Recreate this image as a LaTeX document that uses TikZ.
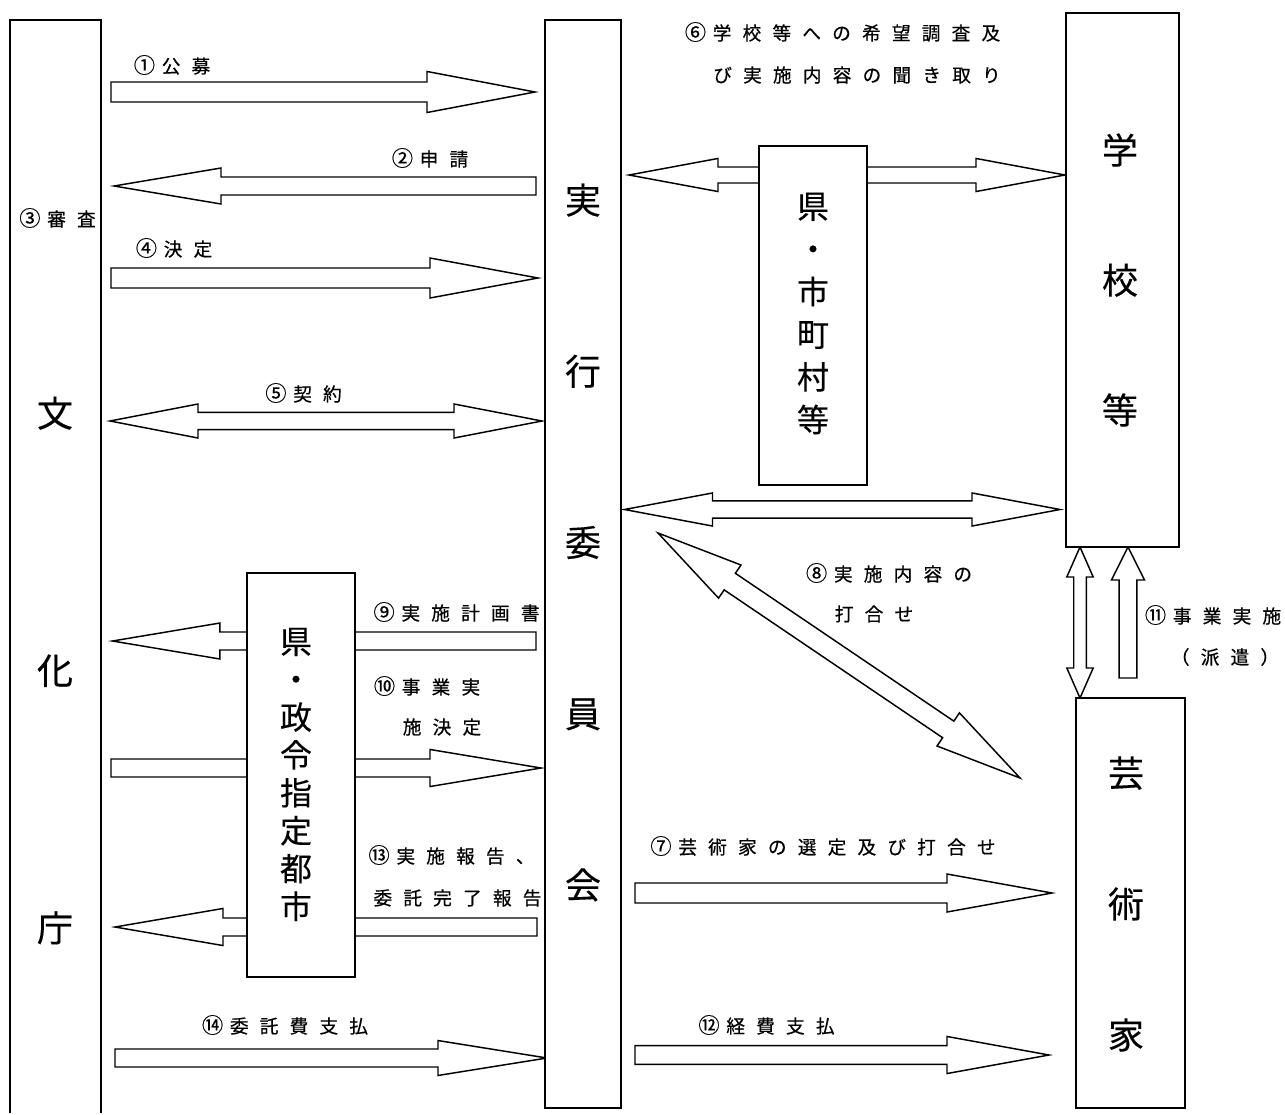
\documentclass[tikz,border=0pt]{standalone}
\usepackage{fontspec}
\usetikzlibrary{calc}
\newfontfamily\jp[FakeBold=0.3]{Noto Sans CJK JP}
\newfontfamily\jplbl[LetterSpace=60,FakeBold=0.5]{Noto Sans CJK JP}
\newcommand\cn[1]{{\fontsize{16}{18}\selectfont #1}\hspace{5pt}}
\pgfdeclarelayer{bg}
\pgfdeclarelayer{paper}
\pgfsetlayers{paper,bg,main}
\tikzset{
  blk/.style={draw=black, fill=white, line width=1.1pt, line join=miter},
  box/.style={draw=black, fill=white, line width=1.2pt, inner sep=0pt},
  bigtxt/.style={font=\jp\fontsize{27}{#1}\selectfont, align=center, inner sep=0pt},
  midtxt/.style={font=\jp\fontsize{24}{#1}\selectfont, align=center, inner sep=0pt},
  lbl/.style={font=\jplbl\fontsize{14}{18}\selectfont, inner sep=0pt}
}
% single block arrow: tail, tip, body half, head half, head length
\newcommand\SArrow[5]{%
  \coordinate (hbx) at ($(#2)!#5!(#1)$);
  \draw[blk] ($(#1)!#3!90:(#2)$) -- ($(hbx)!#3!90:(#2)$) -- ($(hbx)!#4!90:(#2)$) -- (#2)
    -- ($(hbx)!#4!-90:(#2)$) -- ($(hbx)!#3!-90:(#2)$) -- ($(#1)!#3!-90:(#2)$) -- cycle;
}
% double block arrow: end A, end B, body half, head half, head length
\newcommand\DArrow[5]{%
  \coordinate (hba) at ($(#1)!#5!(#2)$);
  \coordinate (hbb) at ($(#2)!#5!(#1)$);
  \draw[blk] (#1) -- ($(hba)!#4!90:(#2)$) -- ($(hba)!#3!90:(#2)$) -- ($(hbb)!#3!90:(#2)$)
    -- ($(hbb)!#4!90:(#2)$) -- (#2) -- ($(hbb)!#4!-90:(#2)$) -- ($(hbb)!#3!-90:(#2)$)
    -- ($(hba)!#3!-90:(#2)$) -- ($(hba)!#4!-90:(#2)$) -- cycle;
}
\begin{document}
\begin{tikzpicture}[x=0.75pt, y=-0.75pt]
\begin{pgfonlayer}{paper}
\useasboundingbox[fill=white] (0,0) rectangle (1285,1113);
\end{pgfonlayer}

% ---- boxes ----
\node[inner sep=0pt, minimum width={90*0.75pt}, minimum height={1093*0.75pt}] (bunka) at (55.5,566.5) {};
\draw[line width=1.2pt] (bunka.south west) -- (bunka.north west) -- (bunka.north east) -- (bunka.south east);
\node[box, minimum width={76*0.75pt}, minimum height={1088*0.75pt}] (jikko) at (583,564) {};
\node[box, minimum width={108*0.75pt}, minimum height={339*0.75pt}] (kenshi) at (813,315.5) {};
\node[box, minimum width={113*0.75pt}, minimum height={534*0.75pt}] (gakko) at (1122.5,280) {};
\node[box, minimum width={109*0.75pt}, minimum height={410*0.75pt}] (geijutsu) at (1130.5,903) {};
\node[box, minimum width={108*0.75pt}, minimum height={404*0.75pt}] (kensei) at (301,775) {};

% ---- box texts ----
\node[bigtxt=193pt] (tbunka) at (55,670.5) {文\\化\\庁};
\node[bigtxt=128.4pt] (tjikko) at (583,542.5) {実\\行\\委\\員\\会};
\node[midtxt=32pt] (tkenshi) at (813,313.5) {県\\・\\市\\町\\村\\等};
\node[bigtxt=97.5pt] (tgakko) at (1120,280) {学\\校\\等};
\node[bigtxt=98.25pt] (tgei) at (1126,904) {芸\\術\\家};
\node[midtxt=28.4pt] (tkensei) at (296,774.5) {県\\・\\政\\令\\指\\定\\都\\市};

% ---- arrow end points ----
\coordinate (a1s) at (111,92);    \coordinate (a1e) at (535,92);
\coordinate (a2s) at (536,186);   \coordinate (a2e) at (114,186);
\coordinate (a4s) at (111,278);   \coordinate (a4e) at (538,278);
\coordinate (a5s) at (110,421);   \coordinate (a5e) at (542,421);
\coordinate (a6s) at (629,175);   \coordinate (a6e) at (1065,175);
\coordinate (ags) at (624.5,509.5); \coordinate (age) at (1060,509.5);
\coordinate (a8s) at (658,533);   \coordinate (a8e) at (1020,778);
\coordinate (a9s) at (536,641);   \coordinate (a9e) at (112.5,641);
\coordinate (a10s) at (111,768);  \coordinate (a10e) at (541,768);
\coordinate (a13s) at (537,927);  \coordinate (a13e) at (115,927);
\coordinate (a7s) at (635,893);   \coordinate (a7e) at (1052,893);
\coordinate (a14s) at (115,1058); \coordinate (a14e) at (547,1058);
\coordinate (a12s) at (635,1055); \coordinate (a12e) at (1049,1055);
\coordinate (vds) at (1080,547);  \coordinate (vde) at (1080,698);
\coordinate (vss) at (1128,678);  \coordinate (vse) at (1128,547);

\begin{pgfonlayer}{bg}
\SArrow{a1s}{a1e}{7.5pt}{15.4pt}{81pt}
\SArrow{a2s}{a2e}{6.75pt}{13.5pt}{80.25pt}
\SArrow{a4s}{a4e}{7.5pt}{15pt}{81pt}
\DArrow{a5s}{a5e}{6.4pt}{12.75pt}{66pt}
\DArrow{a6s}{a6e}{6pt}{12.4pt}{66.75pt}
\DArrow{ags}{age}{6.4pt}{12.4pt}{66pt}
\DArrow{a8s}{a8e}{7.5pt}{15pt}{65pt}
\SArrow{a9s}{a9e}{6.75pt}{13.5pt}{80.6pt}
\SArrow{a10s}{a10e}{6.75pt}{13.9pt}{83.25pt}
\SArrow{a13s}{a13e}{6.75pt}{13.9pt}{81pt}
\SArrow{a7s}{a7e}{7.5pt}{14.25pt}{78.75pt}
\SArrow{a14s}{a14e}{6.75pt}{13.1pt}{81.75pt}
\SArrow{a12s}{a12e}{7.1pt}{13.9pt}{76.5pt}
\DArrow{vds}{vde}{4.7pt}{9.9pt}{22.5pt}
\SArrow{vss}{vse}{6.6pt}{12.4pt}{24.75pt}
\end{pgfonlayer}

% ---- labels ----
\node[lbl] (l1) at (172,65) {\cn{①}公募};
\node[lbl] (l2) at (430,158) {\cn{②}申請};
\node[lbl] (l3) at (57.5,218) {\cn{③}審査};
\node[lbl] (l4) at (174,248) {\cn{④}決定};
\node[lbl] (l5) at (303.5,393) {\cn{⑤}契約};
\node[lbl] (l6a) at (842.5,32) {\cn{⑥}学校等への希望調査及};
\node[lbl] (l6b) at (857,75) {び実施内容の聞き取り};
\node[lbl] (l8a) at (889,573) {\cn{⑧}実施内容の};
\node[lbl] (l8b) at (874,614) {打合せ};
\node[lbl] (l9) at (456.5,612) {\cn{⑨}実施計画書};
\node[lbl] (l10a) at (427,686) {\cn{⑩}事業実};
\node[lbl] (l10b) at (442,727) {施決定};
\node[lbl] (l13a) at (451.5,855) {\cn{⑬}実施報告、};
\node[lbl] (l13b) at (457.5,898) {委託完了報告};
\node[lbl] (l7) at (823,846) {\cn{⑦}芸術家の選定及び打合せ};
\node[lbl] (l11a) at (1213,615) {\cn{⑪}事業実施};
\node[lbl] (l11b) at (1225,657) {（派遣）};
\node[lbl] (l14) at (285,1025) {\cn{⑭}委託費支払};
\node[lbl] (l12) at (766.5,1025) {\cn{⑫}経費支払};
\end{tikzpicture}
\end{document}
